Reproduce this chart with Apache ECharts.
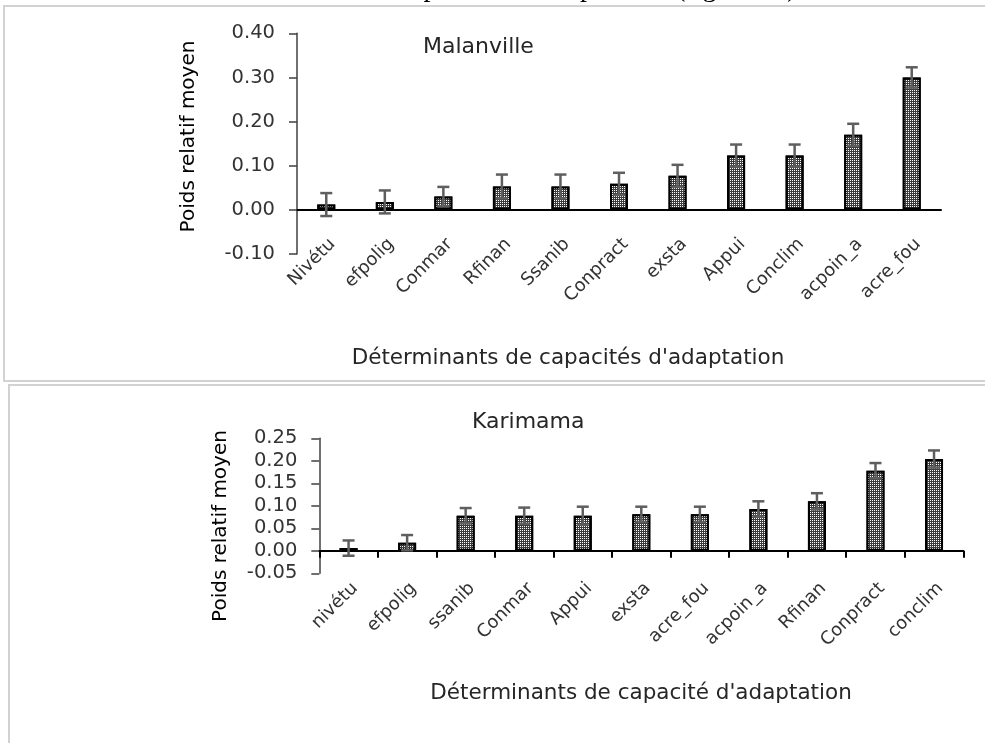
<!DOCTYPE html>
<html>
<head>
<meta charset="utf-8">
<script src="https://cdn.jsdelivr.net/npm/echarts@6/dist/echarts.min.js"></script>
<style>
html,body{margin:0;padding:0;background:#fff;}
#c{width:985px;height:743px;}
</style>
</head>
<body>
<div id="c"></div>
<script>
// ---- Data: Malanville ----
var catsM = ['Nivétu','efpolig','Conmar','Rfinan','Ssanib','Conpract','exsta','Appui','Conclim','acpoin_a','acre_fou'];
var valsM = [0.012, 0.018, 0.030, 0.053, 0.053, 0.059, 0.077, 0.123, 0.123, 0.170, 0.300];
var errM  = [0.026, 0.026, 0.022, 0.027, 0.027, 0.025, 0.025, 0.025, 0.025, 0.025, 0.023];
var ticksM = {min: -0.10, max: 0.40, step: 0.10};

// ---- Data: Karimama ----
var catsK = ['nivétu','efpolig','ssanib','Conmar','Appui','exsta','acre_fou','acpoin_a','Rfinan','Conpract','conclim'];
var valsK = [0.006, 0.018, 0.078, 0.078, 0.078, 0.081, 0.081, 0.093, 0.110, 0.178, 0.204];
var errK  = [0.017, 0.017, 0.017, 0.018, 0.020, 0.017, 0.017, 0.017, 0.018, 0.017, 0.019];
var ticksK = {min: -0.05, max: 0.25, step: 0.05};

var titleM = 'Malanville';
var titleK = 'Karimama';
var yName = 'Poids relatif moyen';
var xNameM = "Déterminants de capacités d'adaptation";
var xNameK = "Déterminants de capacité d'adaptation";

var FONT = 'DejaVu Sans';
var LABEL_COLOR = '#333333';

function errData(vals, errs){
  return vals.map(function(v,i){ return [i, v, errs[i]]; });
}
function errRender(params, api){
  var i = api.value(0), v = api.value(1), e = api.value(2);
  var top = api.coord([i, v + e]);
  var bot = api.coord([i, v - e]);
  var hw = 6;
  var st = {stroke:'#5e5e5e', lineWidth:2.5};
  return {type:'group', children:[
    {type:'line', shape:{x1:top[0],y1:top[1],x2:bot[0],y2:bot[1]}, style:st},
    {type:'line', shape:{x1:top[0]-hw,y1:top[1],x2:top[0]+hw,y2:top[1]}, style:st},
    {type:'line', shape:{x1:bot[0]-hw,y1:bot[1],x2:bot[0]+hw,y2:bot[1]}, style:st}
  ]};
}
var barStyle = {
  color:'#3c3c3c',
  borderColor:'#000',
  borderWidth:2,
  decal:{symbol:'rect', symbolSize:1, color:'#ffffff', dashArrayX:[1,1], dashArrayY:[1,1], rotation:0}
};
function xAx(grid, cats, ticks, margin){
  return {
    type:'category', gridIndex:grid, data:cats,
    axisLine:{onZero:true, lineStyle:{color:'#000', width:2}},
    axisTick:{show:ticks, length:7, interval:0, lineStyle:{color:'#000', width:2}},
    axisLabel:{interval:0, rotate:45, align:'right', verticalAlign:'top', margin:margin,
      fontFamily:FONT, fontSize:18, color:LABEL_COLOR},
    splitLine:{show:false}
  };
}
function yAx(grid, t){
  return {
    type:'value', gridIndex:grid, min:t.min, max:t.max, interval:t.step,
    axisLine:{show:true, lineStyle:{color:'#404040', width:1.5}},
    axisTick:{show:true, length:8, lineStyle:{color:'#404040', width:1.5}},
    axisLabel:{margin:22, fontFamily:FONT, fontSize:19.5, color:LABEL_COLOR,
      formatter:function(v){ return v.toFixed(2); }},
    splitLine:{show:false}
  };
}
var cutFont = '28px "Liberation Serif"';
function cutText(x, s){
  return {type:'text', x:x, y:-11, z:3,
    style:{text:s, font:cutFont, fill:'#000', verticalAlign:'middle'}};
}

var chart = echarts.init(document.getElementById('c'));
chart.setOption({
  animation:false,
  backgroundColor:'#fff',
  grid:[
    {left:297, right:44, top:33.3, height:220.7},
    {left:319.3, right:21.7, top:438.3, height:135}
  ],
  xAxis:[ xAx(0, catsM, false, -19), xAx(1, catsK, true, 6) ],
  yAxis:[ yAx(0, ticksM), yAx(1, ticksK) ],
  series:[
    {type:'bar', xAxisIndex:0, yAxisIndex:0, data:valsM, barWidth:18, itemStyle:barStyle, z:2},
    {type:'custom', xAxisIndex:0, yAxisIndex:0, data:errData(valsM, errM), renderItem:errRender, z:5},
    {type:'bar', xAxisIndex:1, yAxisIndex:1, data:valsK, barWidth:18, itemStyle:barStyle, z:2},
    {type:'custom', xAxisIndex:1, yAxisIndex:1, data:errData(valsK, errK), renderItem:errRender, z:5}
  ],
  graphic:[
    // page frames
    {type:'rect', shape:{x:4, y:6, width:1200, height:375}, style:{fill:'none', stroke:'#d2d2d2', lineWidth:2}, z:-1},
    {type:'rect', shape:{x:9, y:385, width:1200, height:400}, style:{fill:'none', stroke:'#d2d2d2', lineWidth:2}, z:-1},
    // cut-off body text above the figure
    cutText(423.5, 'paramètres'),
    cutText(580, 'pondéré'),
    cutText(676, '(figure 10)'),
    // titles
    {type:'text', x:423, y:47, style:{text:titleM, font:'22px "DejaVu Sans"', fill:'#262626', verticalAlign:'middle'}},
    {type:'text', x:472, y:422, style:{text:titleK, font:'22px "DejaVu Sans"', fill:'#262626', verticalAlign:'middle'}},
    // y axis names
    {type:'text', x:188.5, y:136.5, rotation:Math.PI/2, style:{text:yName, font:'20px "DejaVu Sans"', fill:'#000', align:'center', verticalAlign:'middle'}},
    {type:'text', x:221, y:526, rotation:Math.PI/2, style:{text:yName, font:'20px "DejaVu Sans"', fill:'#000', align:'center', verticalAlign:'middle'}},
    // x axis names
    {type:'text', x:568, y:358, style:{text:xNameM, font:'21.5px "DejaVu Sans"', fill:'#262626', align:'center', verticalAlign:'middle'}},
    {type:'text', x:641, y:693, style:{text:xNameK, font:'21.5px "DejaVu Sans"', fill:'#262626', align:'center', verticalAlign:'middle'}}
  ]
});
</script>
</body>
</html>
